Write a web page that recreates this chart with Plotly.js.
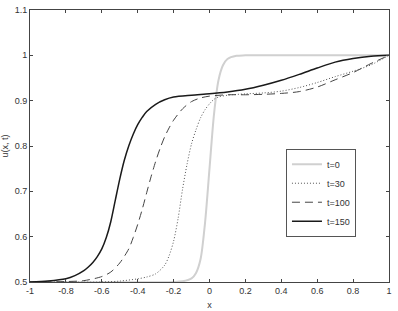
<!DOCTYPE html>
<html>
<head>
<meta charset="utf-8">
<script src="https://cdn.plot.ly/plotly-3.0.1.min.js"></script>
<style>html,body{margin:0;padding:0;background:#fff;}#chart{width:398px;height:311px;}</style>
</head>
<body>
<div id="chart"></div>
<script>
// x positions and values
const x_t0   = [-1, -0.2, -0.15, -0.1, -0.075, -0.05, -0.025, 0, 0.025, 0.05, 0.075, 0.1, 0.15, 0.2, 1];
const u_t0   = [0.5, 0.5, 0.5015, 0.508, 0.52, 0.55, 0.63, 0.75, 0.87, 0.945, 0.978, 0.992, 0.999, 1.0, 1.0];

const x_t30  = [-1, -0.6, -0.5, -0.4, -0.35, -0.3, -0.25, -0.225, -0.2, -0.175, -0.15, -0.125, -0.1, -0.075, -0.05, -0.025, 0, 0.025, 0.05, 0.1, 0.2, 0.3, 0.4, 0.5, 0.6, 0.7, 0.8, 0.9, 1];
const u_t30  = [0.5, 0.5, 0.502, 0.507, 0.511, 0.518, 0.537, 0.558, 0.59, 0.64, 0.705, 0.76, 0.805, 0.836, 0.862, 0.88, 0.893, 0.903, 0.908, 0.912, 0.915, 0.917, 0.921, 0.929, 0.94, 0.953, 0.965, 0.979, 1.0];

const x_t100 = [-1, -0.8, -0.7, -0.6, -0.55, -0.5, -0.45, -0.425, -0.4, -0.375, -0.35, -0.325, -0.3, -0.275, -0.25, -0.225, -0.2, -0.15, -0.1, -0.05, 0, 0.1, 0.2, 0.3, 0.4, 0.5, 0.6, 0.7, 0.8, 0.9, 1];
const u_t100 = [0.5, 0.501, 0.503, 0.512, 0.522, 0.542, 0.573, 0.598, 0.627, 0.66, 0.697, 0.733, 0.766, 0.795, 0.82, 0.84, 0.857, 0.882, 0.898, 0.906, 0.91, 0.913, 0.913, 0.914, 0.916, 0.92, 0.93, 0.946, 0.962, 0.982, 1.0];

const x_t150 = [-1, -0.9, -0.8, -0.75, -0.7, -0.675, -0.65, -0.625, -0.6, -0.575, -0.55, -0.525, -0.5, -0.475, -0.45, -0.425, -0.4, -0.375, -0.35, -0.3, -0.25, -0.2, -0.1, 0, 0.1, 0.2, 0.3, 0.4, 0.5, 0.6, 0.7, 0.8, 0.9, 1];
const u_t150 = [0.5, 0.502, 0.507, 0.514, 0.525, 0.533, 0.543, 0.556, 0.573, 0.598, 0.633, 0.68, 0.727, 0.768, 0.80, 0.826, 0.847, 0.863, 0.876, 0.892, 0.902, 0.908, 0.912, 0.915, 0.919, 0.925, 0.934, 0.945, 0.958, 0.972, 0.985, 0.993, 0.998, 1.0];

const seriesNames = ['t=0', 't=30', 't=100', 't=150'];

const xTickVals = [-1, -0.8, -0.6, -0.4, -0.2, 0, 0.2, 0.4, 0.6, 0.8, 1];
const xTickText = ['-1', '-0.8', '-0.6', '-0.4', '-0.2', '0', '0.2', '0.4', '0.6', '0.8', '1'];
const yTickVals = [0.5, 0.6, 0.7, 0.8, 0.9, 1, 1.1];
const yTickText = ['0.5', '0.6', '0.7', '0.8', '0.9', '1', '1.1'];

const traces = [
  {x: x_t0, y: u_t0, name: seriesNames[0], legendgroup: 'a', line: {color: '#d0d0d0', width: 2, shape: 'spline', smoothing: 0.8}},
  {x: x_t30, y: u_t30, name: seriesNames[1], legendgroup: 'b', line: {color: '#555555', width: 1, dash: '1px,2px', shape: 'spline', smoothing: 0.8}},
  {x: x_t100, y: u_t100, name: seriesNames[2], legendgroup: 'c', line: {color: '#444444', width: 1, dash: '8px,5px', shape: 'spline', smoothing: 0.8}},
  {x: x_t150, y: u_t150, name: seriesNames[3], legendgroup: 'd', line: {color: '#1a1a1a', width: 1.5, shape: 'spline', smoothing: 0.8}}
].map(t => Object.assign({type: 'scatter', mode: 'lines'}, t));

const axisCommon = {
  showgrid: false, zeroline: false, showline: true, linecolor: '#444', linewidth: 1,
  mirror: 'allticks', ticks: 'inside', ticklen: 3, tickcolor: '#444',
  tickfont: {family: 'Liberation Sans, Arial, sans-serif', size: 9, color: '#333'}
};

const layout = {
  width: 398, height: 311,
  margin: {l: 30, r: 9, t: 10, b: 29},
  paper_bgcolor: '#fff', plot_bgcolor: '#fff',
  showlegend: true,
  legend: {
    x: 0.713, y: 0.49, xanchor: 'left', yanchor: 'top',
    bordercolor: '#555', borderwidth: 1, bgcolor: '#fff',
    font: {family: 'Liberation Sans, Arial, sans-serif', size: 9, color: '#333'},
    tracegroupgap: 5, traceorder: 'normal'
  },
  xaxis: Object.assign({}, axisCommon, {
    range: [-1, 1], tickvals: xTickVals, ticktext: xTickText,
    title: {text: 'x', font: {family: 'Liberation Sans, Arial, sans-serif', size: 9, color: '#333'}, standoff: 6}
  }),
  yaxis: Object.assign({}, axisCommon, {
    range: [0.5, 1.1], tickvals: yTickVals, ticktext: yTickText,
    title: {text: 'u(x, t)', font: {family: 'Liberation Sans, Arial, sans-serif', size: 9, color: '#333'}, standoff: 5}
  })
};

Plotly.newPlot('chart', traces, layout, {staticPlot: true, displayModeBar: false});
</script>
</body>
</html>
